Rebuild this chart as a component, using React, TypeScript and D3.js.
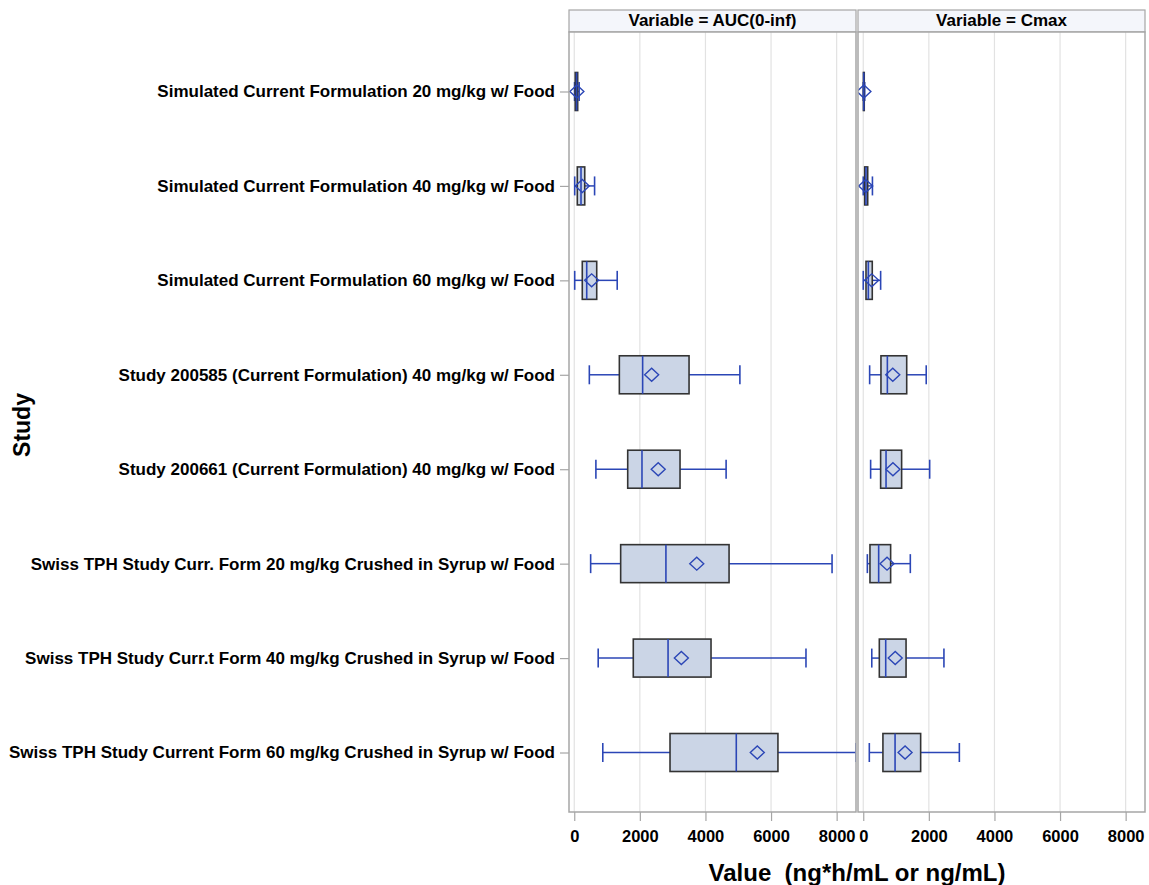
import { useEffect, useRef } from 'react'
import * as d3 from 'd3'

// Study categories (top to bottom)
const studies = [
  'Simulated Current Formulation 20 mg/kg w/ Food',
  'Simulated Current Formulation 40 mg/kg w/ Food',
  'Simulated Current Formulation 60 mg/kg w/ Food',
  'Study 200585 (Current Formulation) 40 mg/kg w/ Food',
  'Study 200661 (Current Formulation) 40 mg/kg w/ Food',
  'Swiss TPH Study Curr. Form 20 mg/kg Crushed in Syrup w/ Food',
  'Swiss TPH Study Curr.t Form 40 mg/kg Crushed in Syrup w/ Food',
  'Swiss TPH Study Current Form 60 mg/kg Crushed in Syrup w/ Food',
]

// AUC(0-inf) box statistics, ng*h/mL
const aucMin = [10, 14, 14, 460, 660, 500, 730, 870]
const aucQ1 = [30, 93, 245, 1375, 1630, 1415, 1800, 2920]
const aucMedian = [70, 206, 380, 2085, 2065, 2795, 2860, 4940]
const aucQ3 = [105, 320, 685, 3500, 3225, 4720, 4170, 6210]
const aucMax = [150, 620, 1310, 5050, 4630, 7860, 7065, 8590]
const aucMean = [80, 245, 530, 2360, 2560, 3735, 3265, 5580]

// Cmax box statistics, ng/mL
const cmaxMin = [0, 0, 0, 195, 225, 125, 260, 185]
const cmaxQ1 = [5, 44, 84, 540, 530, 205, 490, 600]
const cmaxMedian = [15, 84, 155, 735, 695, 470, 685, 970]
const cmaxQ3 = [30, 136, 275, 1325, 1170, 835, 1305, 1750]
const cmaxMax = [45, 280, 530, 1920, 2025, 1435, 2460, 2930]
const cmaxMean = [20, 75, 258, 900, 905, 725, 975, 1275]

const panelTitles = ['Variable = AUC(0-inf)', 'Variable = Cmax']
const xTicks = [0, 2000, 4000, 6000, 8000]
const xDomain: [number, number] = [-160, 8590]

const WIDTH = 1149
const HEIGHT = 885
const PANEL_X: [number, number][] = [[569, 856], [858, 1145]]
const HEADER_TOP = 10
const PLOT_TOP = 32
const PLOT_BOTTOM = 812
const FONT = '"Liberation Sans", Arial, Helvetica, sans-serif'

const BOX_FILL = '#CBD5E6'
const BOX_LINE = '#333333'
const BLUE = '#2B46B6'
const FRAME = '#A6A6A6'
const GRID = '#E2E2E2'

interface BoxRow {
  study: string
  min: number
  q1: number
  median: number
  q3: number
  max: number
  mean: number
}

function buildRows(min: number[], q1: number[], median: number[], q3: number[], max: number[], mean: number[]): BoxRow[] {
  return studies.map((study, i) => ({
    study,
    min: min[i],
    q1: q1[i],
    median: median[i],
    q3: q3[i],
    max: max[i],
    mean: mean[i],
  }))
}

export default function App() {
  const svgRef = useRef<SVGSVGElement>(null)

  useEffect(() => {
    if (!svgRef.current) return
    const svg = d3.select(svgRef.current)
    svg.selectAll('*').remove()

    const panels = [
      buildRows(aucMin, aucQ1, aucMedian, aucQ3, aucMax, aucMean),
      buildRows(cmaxMin, cmaxQ1, cmaxMedian, cmaxQ3, cmaxMax, cmaxMean),
    ]

    const yScale = d3.scalePoint<string>().domain(studies).range([PLOT_TOP, PLOT_BOTTOM]).padding(0.63)
    const boxHalf = 19
    const capHalf = 9.5
    const defs = svg.append('defs')

    panels.forEach((rows, p) => {
      const [x0, x1] = PANEL_X[p]
      const xScale = d3.scaleLinear().domain(xDomain).range([x0, x1])
      const g = svg.append('g')

      // header strip
      g.append('rect')
        .attr('x', x0)
        .attr('y', HEADER_TOP)
        .attr('width', x1 - x0)
        .attr('height', PLOT_TOP - HEADER_TOP)
        .attr('fill', '#F4F6FB')
        .attr('stroke', FRAME)
        .attr('stroke-width', 1.2)
      g.append('text')
        .attr('x', (x0 + x1) / 2)
        .attr('y', (HEADER_TOP + PLOT_TOP) / 2 + 1)
        .attr('text-anchor', 'middle')
        .attr('dominant-baseline', 'middle')
        .attr('font-family', FONT)
        .attr('font-weight', 'bold')
        .attr('font-size', 17)
        .attr('fill', '#000')
        .text(panelTitles[p])

      // plot background
      g.append('rect')
        .attr('x', x0)
        .attr('y', PLOT_TOP)
        .attr('width', x1 - x0)
        .attr('height', PLOT_BOTTOM - PLOT_TOP)
        .attr('fill', '#fff')

      // gridlines
      g.selectAll('line.grid')
        .data(xTicks)
        .join('line')
        .attr('class', 'grid')
        .attr('x1', (d) => xScale(d))
        .attr('x2', (d) => xScale(d))
        .attr('y1', PLOT_TOP)
        .attr('y2', PLOT_BOTTOM)
        .attr('stroke', GRID)
        .attr('stroke-width', 1.2)

      const clipId = `clip-${p}`
      defs.append('clipPath')
        .attr('id', clipId)
        .append('rect')
        .attr('x', x0)
        .attr('y', PLOT_TOP)
        .attr('width', x1 - x0)
        .attr('height', PLOT_BOTTOM - PLOT_TOP)

      const marks = g.append('g').attr('clip-path', `url(#${clipId})`)
      const box = marks.selectAll('g.box').data(rows).join('g').attr('class', 'box')

      // whiskers
      box.append('line')
        .attr('x1', (d) => xScale(d.min))
        .attr('x2', (d) => xScale(d.q1))
        .attr('y1', (d) => yScale(d.study)!)
        .attr('y2', (d) => yScale(d.study)!)
        .attr('stroke', BLUE)
        .attr('stroke-width', 1.5)
      box.append('line')
        .attr('x1', (d) => xScale(d.q3))
        .attr('x2', (d) => xScale(d.max))
        .attr('y1', (d) => yScale(d.study)!)
        .attr('y2', (d) => yScale(d.study)!)
        .attr('stroke', BLUE)
        .attr('stroke-width', 1.5)
      ;(['min', 'max'] as const).forEach((k) => {
        box.append('line')
          .attr('x1', (d) => xScale(d[k]))
          .attr('x2', (d) => xScale(d[k]))
          .attr('y1', (d) => yScale(d.study)! - capHalf)
          .attr('y2', (d) => yScale(d.study)! + capHalf)
          .attr('stroke', BLUE)
          .attr('stroke-width', 1.6)
      })

      // box
      box.append('rect')
        .attr('x', (d) => xScale(d.q1))
        .attr('y', (d) => yScale(d.study)! - boxHalf)
        .attr('width', (d) => xScale(d.q3) - xScale(d.q1))
        .attr('height', boxHalf * 2)
        .attr('fill', BOX_FILL)
        .attr('stroke', BOX_LINE)
        .attr('stroke-width', 1.6)

      // median
      box.append('line')
        .attr('x1', (d) => xScale(d.median))
        .attr('x2', (d) => xScale(d.median))
        .attr('y1', (d) => yScale(d.study)! - boxHalf)
        .attr('y2', (d) => yScale(d.study)! + boxHalf)
        .attr('stroke', BLUE)
        .attr('stroke-width', 1.6)

      // mean diamond
      box.append('path')
        .attr('d', (d) => {
          const cx = xScale(d.mean)
          const cy = yScale(d.study)!
          return `M${cx - 7},${cy}L${cx},${cy - 6.5}L${cx + 7},${cy}L${cx},${cy + 6.5}Z`
        })
        .attr('fill', 'none')
        .attr('stroke', BLUE)
        .attr('stroke-width', 1.4)

      // frame
      g.append('rect')
        .attr('x', x0)
        .attr('y', PLOT_TOP)
        .attr('width', x1 - x0)
        .attr('height', PLOT_BOTTOM - PLOT_TOP)
        .attr('fill', 'none')
        .attr('stroke', FRAME)
        .attr('stroke-width', 1.5)

      // x axis
      g.append('g')
        .attr('transform', `translate(0,${PLOT_BOTTOM})`)
        .call(d3.axisBottom(xScale).tickValues(xTicks).tickSize(9).tickPadding(9).tickFormat(d3.format('d')))
        .call((ax) => {
          ax.select('.domain').remove()
          ax.selectAll('.tick line').attr('stroke', FRAME).attr('stroke-width', 1.2)
          ax.selectAll('.tick text')
            .attr('fill', '#000')
            .attr('font-size', 16.5)
            .attr('font-weight', 'bold')
            .attr('font-family', FONT)
        })
    })

    // category axis
    svg.append('g')
      .attr('transform', `translate(${PANEL_X[0][0]},0)`)
      .call(d3.axisLeft(yScale).tickSize(9).tickPadding(5))
      .call((ax) => {
        ax.select('.domain').remove()
        ax.selectAll('.tick line').attr('stroke', FRAME).attr('stroke-width', 1.2)
        ax.selectAll('.tick text')
          .attr('fill', '#000')
          .attr('font-size', 17)
          .attr('font-weight', 'bold')
          .attr('font-family', FONT)
      })

    // axis titles
    svg.append('text')
      .attr('transform', 'translate(30,425) rotate(-90)')
      .attr('text-anchor', 'middle')
      .attr('font-family', FONT)
      .attr('font-weight', 'bold')
      .attr('font-size', 23)
      .text('Study')

    svg.append('text')
      .attr('x', (PANEL_X[0][0] + PANEL_X[1][1]) / 2)
      .attr('y', 881)
      .attr('text-anchor', 'middle')
      .attr('font-family', FONT)
      .attr('font-weight', 'bold')
      .attr('font-size', 24)
      .attr('xml:space', 'preserve')
      .style('white-space', 'pre')
      .text('Value  (ng*h/mL or ng/mL)')
  }, [])

  return (
    <svg
      ref={svgRef}
      width={WIDTH}
      height={HEIGHT}
      style={{ position: 'absolute', left: 0, top: 0, background: '#fff' }}
    />
  )
}
